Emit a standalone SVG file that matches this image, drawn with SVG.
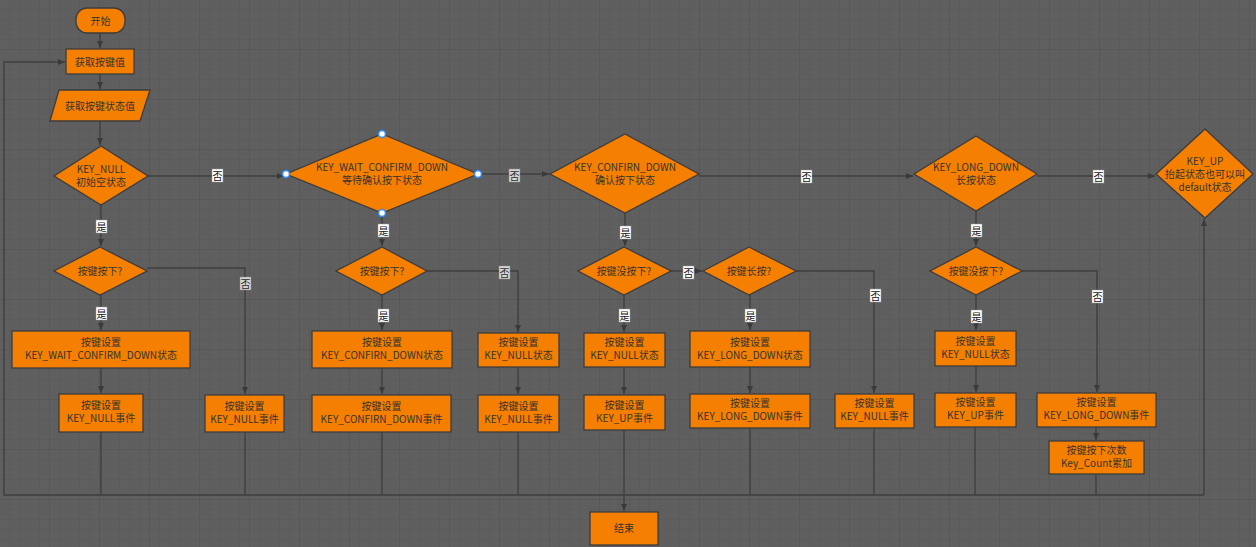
<svg xmlns="http://www.w3.org/2000/svg" width="1256" height="547" viewBox="0 0 1256 547">
<defs>
<pattern id="minor" width="10" height="10" patternUnits="userSpaceOnUse"><path d="M10 0V10H0" fill="none" stroke="#585858" stroke-width="1"/></pattern>
<pattern id="major" width="50" height="50" patternUnits="userSpaceOnUse"><rect width="50" height="50" fill="url(#minor)"/><path d="M50 0V50H0" fill="none" stroke="#535353" stroke-width="1"/></pattern>
<marker id="arr" markerWidth="8" markerHeight="8" refX="7" refY="4" orient="auto" markerUnits="userSpaceOnUse"><path d="M0 1L7 4L0 7Z" fill="#3a3a3a"/></marker>
</defs>
<style>
.n{fill:#f57f00;stroke:#3c3c3c;stroke-width:1.3}
.t{font-family:"Noto Sans CJK SC","Noto Sans",sans-serif;font-size:10px;fill:#333;text-anchor:middle}
.e{fill:none;stroke:#3f3f3f;stroke-width:1.4}
.a{marker-end:url(#arr)}
.lb{fill:#fff;stroke:#999;stroke-width:0.5}
.lt{font-family:"Noto Sans CJK SC",sans-serif;font-size:10px;fill:#111;text-anchor:middle}
.fd{opacity:0.75}
.h{fill:#fff;stroke:#2a8cff;stroke-width:1.5}
</style>
<rect width="1256" height="547" fill="#5f5f5f"/>
<rect width="1256" height="547" fill="url(#major)"/>

<g id="connectors">
<path class="e a" d="M100 33V48"/>
<path class="e a" d="M100 74V89"/>
<path class="e a" d="M100 121V145"/>
<path class="e a" d="M148 176H284"/>
<path class="e a" d="M478 174H549"/>
<path class="e a" d="M699 176H913"/>
<path class="e a" d="M1037 176H1155"/>
<path class="e a" d="M101 205V246"/>
<path class="e a" d="M382 213V246"/>
<path class="e a" d="M625 213V246"/>
<path class="e a" d="M976 211V246"/>
<path class="e a" d="M147 268H245V394"/>
<path class="e a" d="M427 271H518V332"/>
<path class="e a" d="M671 271H702"/>
<path class="e a" d="M796 271H874V393"/>
<path class="e a" d="M1022 271H1097V392"/>
<path class="e a" d="M101 295V330"/>
<path class="e a" d="M382 295V330"/>
<path class="e a" d="M624 295V332"/>
<path class="e a" d="M750 295V330"/>
<path class="e a" d="M976 295V330"/>
<path class="e a" d="M101 368V393"/>
<path class="e a" d="M382 368V394"/>
<path class="e a" d="M518 367V394"/>
<path class="e a" d="M624 367V394"/>
<path class="e a" d="M750 367V393"/>
<path class="e a" d="M976 366V392"/>
<path class="e a" d="M1096 427V440"/>
<path class="e" d="M101 432V495"/>
<path class="e" d="M245 432V495"/>
<path class="e" d="M382 432V495"/>
<path class="e" d="M518 432V495"/>
<path class="e a" d="M624 430V511"/>
<path class="e" d="M750 428V495"/>
<path class="e" d="M874 428V495"/>
<path class="e" d="M975 427V495"/>
<path class="e" d="M1096 474V495"/>
<path class="e a" d="M1204 495V219"/>
<path class="e a" d="M1204 495H4V62H65"/>
<g>
<rect class="lb" x="212" y="169" width="11" height="13"/><text class="lt" x="217.5" y="180">否</text>
<g class="fd"><rect class="lb" x="509" y="169" width="11" height="13"/><text class="lt" x="514.5" y="180">否</text></g>
<rect class="lb" x="801" y="170" width="11" height="13"/><text class="lt" x="806.5" y="181">否</text>
<rect class="lb" x="1093" y="170" width="11" height="13"/><text class="lt" x="1098.5" y="181">否</text>
<rect class="lb" x="96" y="220" width="11" height="13"/><text class="lt" x="101.5" y="231">是</text>
<rect class="lb" x="378" y="224" width="11" height="13"/><text class="lt" x="383.5" y="235">是</text>
<rect class="lb" x="620" y="226" width="11" height="13"/><text class="lt" x="625.5" y="237">是</text>
<rect class="lb" x="971" y="224" width="11" height="13"/><text class="lt" x="976.5" y="235">是</text>
<g class="fd"><rect class="lb" x="240" y="277" width="11" height="13"/><text class="lt" x="245.5" y="288">否</text></g>
<g class="fd"><rect class="lb" x="499" y="266" width="11" height="13"/><text class="lt" x="504.5" y="277">否</text></g>
<rect class="lb" x="683" y="266" width="11" height="13"/><text class="lt" x="688.5" y="277">否</text>
<rect class="lb" x="870" y="289" width="11" height="13"/><text class="lt" x="875.5" y="300">否</text>
<rect class="lb" x="1092" y="290" width="11" height="13"/><text class="lt" x="1097.5" y="301">否</text>
<rect class="lb" x="96" y="307" width="11" height="13"/><text class="lt" x="101.5" y="318">是</text>
<rect class="lb" x="378" y="309" width="11" height="13"/><text class="lt" x="383.5" y="320">是</text>
<rect class="lb" x="619" y="309" width="11" height="13"/><text class="lt" x="624.5" y="320">是</text>
<rect class="lb" x="745" y="309" width="11" height="13"/><text class="lt" x="750.5" y="320">是</text>
<rect class="lb" x="971" y="310" width="11" height="13"/><text class="lt" x="976.5" y="321">是</text>
</g>
</g>

<g id="start"><rect class="n" x="76" y="8" width="49" height="25" rx="11"/><text class="t" x="100.5" y="24.5">开始</text></g>
<g id="getkey"><rect class="n" x="66" y="49" width="68" height="25"/><text class="t" x="100" y="65.5">获取按键值</text></g>
<g id="getstate"><path class="n" d="M59 90H150L140 121H50Z"/><text class="t" x="100" y="109.5">获取按键状态值</text></g>
<g id="d_null"><path class="n" d="M101 146L148 176L101 205L54 176Z"/><text class="t" x="101" y="173">KEY_NULL</text><text class="t" x="101" y="186">初始空状态</text></g>
<g id="d_wait"><path class="n" d="M382 134L478 174L382 213L286 174Z"/><text class="t" x="382" y="171">KEY_WAIT_CONFIRM_DOWN</text><text class="t" x="382" y="184">等待确认按下状态</text>
<circle class="h" cx="382" cy="134" r="3.5"/><circle class="h" cx="478" cy="174" r="3.5"/><circle class="h" cx="382" cy="213" r="3.5"/><circle class="h" cx="286" cy="174" r="3.5"/></g>
<g id="d_confirm"><path class="n" d="M625 134L699 174L625 213L550 174Z"/><text class="t" x="625" y="171">KEY_CONFIRN_DOWN</text><text class="t" x="625" y="184">确认按下状态</text></g>
<g id="d_long"><path class="n" d="M976 136L1037 174L976 211L914 174Z"/><text class="t" x="976" y="171">KEY_LONG_DOWN</text><text class="t" x="976" y="184">长按状态</text></g>
<g id="d_up"><path class="n" d="M1205 129L1253 174L1205 218L1156 174Z"/><text class="t" x="1205" y="165">KEY_UP</text><text class="t" x="1205" y="178">抬起状态也可以叫</text><text class="t" x="1205" y="191">default状态</text></g>

<g id="q1"><path class="n" d="M100 247L147 271L100 295L54 271Z"/><text class="t" x="100" y="275">按键按下?</text></g>
<g id="q2"><path class="n" d="M382 247L427 271L382 295L336 271Z"/><text class="t" x="382" y="275">按键按下?</text></g>
<g id="q3"><path class="n" d="M624 247L671 271L624 295L578 271Z"/><text class="t" x="624" y="275">按键没按下?</text></g>
<g id="q4"><path class="n" d="M749 247L796 271L749 295L703 271Z"/><text class="t" x="749" y="275">按键长按?</text></g>
<g id="q5"><path class="n" d="M976 247L1022 271L976 295L930 271Z"/><text class="t" x="976" y="275">按键没按下?</text></g>

<g id="b1"><rect class="n" x="12" y="331" width="178" height="37"/><text class="t" x="101" y="346">按键设置</text><text class="t" x="101" y="359">KEY_WAIT_CONFIRM_DOWN状态</text></g>
<g id="b2"><rect class="n" x="59" y="394" width="84" height="38"/><text class="t" x="101" y="409">按键设置</text><text class="t" x="101" y="422">KEY_NULL事件</text></g>
<g id="b3"><rect class="n" x="205" y="395" width="79" height="37"/><text class="t" x="244.5" y="410">按键设置</text><text class="t" x="244.5" y="423">KEY_NULL事件</text></g>
<g id="b4"><rect class="n" x="312" y="331" width="140" height="37"/><text class="t" x="382" y="346">按键设置</text><text class="t" x="382" y="359">KEY_CONFIRN_DOWN状态</text></g>
<g id="b5"><rect class="n" x="312" y="395" width="139" height="37"/><text class="t" x="381.5" y="410">按键设置</text><text class="t" x="381.5" y="423">KEY_CONFIRN_DOWN事件</text></g>
<g id="b6"><rect class="n" x="478" y="333" width="81" height="34"/><text class="t" x="518.5" y="346">按键设置</text><text class="t" x="518.5" y="359">KEY_NULL状态</text></g>
<g id="b7"><rect class="n" x="478" y="395" width="81" height="37"/><text class="t" x="518.5" y="410">按键设置</text><text class="t" x="518.5" y="423">KEY_NULL事件</text></g>
<g id="b8"><rect class="n" x="584" y="333" width="81" height="34"/><text class="t" x="624.5" y="346">按键设置</text><text class="t" x="624.5" y="359">KEY_NULL状态</text></g>
<g id="b9"><rect class="n" x="584" y="395" width="81" height="35"/><text class="t" x="624.5" y="409">按键设置</text><text class="t" x="624.5" y="422">KEY_UP事件</text></g>
<g id="b10"><rect class="n" x="690" y="331" width="120" height="36"/><text class="t" x="750" y="346">按键设置</text><text class="t" x="750" y="359">KEY_LONG_DOWN状态</text></g>
<g id="b11"><rect class="n" x="690" y="394" width="120" height="34"/><text class="t" x="750" y="407">按键设置</text><text class="t" x="750" y="420">KEY_LONG_DOWN事件</text></g>
<g id="b12"><rect class="n" x="835" y="394" width="79" height="34"/><text class="t" x="874.5" y="407">按键设置</text><text class="t" x="874.5" y="420">KEY_NULL事件</text></g>
<g id="b13"><rect class="n" x="935" y="331" width="81" height="35"/><text class="t" x="975.5" y="345">按键设置</text><text class="t" x="975.5" y="358">KEY_NULL状态</text></g>
<g id="b14"><rect class="n" x="935" y="393" width="81" height="34"/><text class="t" x="975.5" y="406">按键设置</text><text class="t" x="975.5" y="419">KEY_UP事件</text></g>
<g id="b15"><rect class="n" x="1037" y="393" width="119" height="34"/><text class="t" x="1096.5" y="406">按键设置</text><text class="t" x="1096.5" y="419">KEY_LONG_DOWN事件</text></g>
<g id="b16"><rect class="n" x="1049" y="441" width="95" height="33"/><text class="t" x="1096.5" y="454">按键按下次数</text><text class="t" x="1096.5" y="467">Key_Count累加</text></g>
<g id="end"><rect class="n" x="590" y="512" width="68" height="33"/><text class="t" x="624" y="532">结束</text></g>
</svg>
